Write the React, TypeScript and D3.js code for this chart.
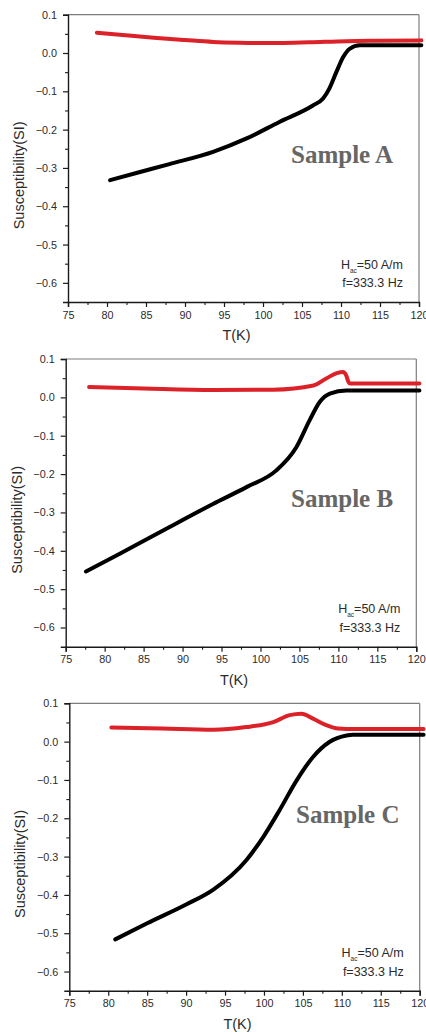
import React, { useEffect, useRef } from 'react';
import * as d3 from 'd3';

// Sample A
const tempBlackA = [80.4, 84, 88, 93.6, 97.9, 102.1, 106.4, 107.7, 108.5, 109.4, 110.3, 111.1, 112.4, 116, 120.3];
const chiBlackA = [-0.332, -0.312, -0.29, -0.258, -0.223, -0.18, -0.137, -0.119, -0.093, -0.05, -0.01, 0.011, 0.02, 0.02, 0.02];
const tempRedA = [78.7, 82, 86, 90, 93.6, 97, 102.1, 106, 110.7, 115, 120.3];
const chiRedA = [0.053, 0.047, 0.04, 0.034, 0.029, 0.027, 0.026, 0.028, 0.031, 0.032, 0.033];

// Sample B
const tempBlackB = [77.6, 82, 87.5, 93.9, 98.2, 102.0, 104.6, 106.3, 107.6, 108.9, 111.0, 115, 120.4];
const chiBlackB = [-0.454, -0.407, -0.347, -0.278, -0.234, -0.191, -0.13, -0.06, -0.012, 0.01, 0.018, 0.018, 0.018];
const tempRedB = [78.0, 85, 93.9, 101.6, 106.8, 108.5, 109.8, 110.6, 111.0, 111.3, 111.5, 115, 120.4];
const chiRedB = [0.027, 0.023, 0.019, 0.02, 0.031, 0.05, 0.063, 0.066, 0.057, 0.04, 0.036, 0.036, 0.036];

// Sample C
const tempBlackC = [80.9, 85, 90, 93.5, 97.7, 99.9, 102.0, 104.2, 106.3, 108.4, 110.6, 111.4, 115, 120.5];
const chiBlackC = [-0.516, -0.474, -0.425, -0.386, -0.31, -0.249, -0.179, -0.101, -0.04, -0.001, 0.016, 0.018, 0.018, 0.018];
const tempRedC = [80.4, 87, 93.5, 97.7, 101.2, 103.3, 104.8, 106.3, 108.0, 109.5, 110.6, 115, 120.5];
const chiRedC = [0.037, 0.034, 0.031, 0.038, 0.051, 0.069, 0.073, 0.06, 0.043, 0.034, 0.033, 0.033, 0.033];

const xTicks = [75, 80, 85, 90, 95, 100, 105, 110, 115, 120];
const yTicks = [0.1, 0.0, -0.1, -0.2, -0.3, -0.4, -0.5, -0.6];
const sampleNames = ['Sample A', 'Sample B', 'Sample C'];
const xTitle = 'T(K)';
const yTitle = 'Susceptibility(SI)';
const fieldText = '=50 A/m';
const freqText = 'f=333.3 Hz';

const W = 426;
const H = 1032;

// plot boxes (pixels) and where the sample name sits
const boxes = [
  { left: 68, right: 419, top: 14.7, bottom: 302, nameX: 291, nameY: 163 },
  { left: 65.7, right: 416.3, top: 359, bottom: 646.7, nameX: 291, nameY: 506.7 },
  { left: 69.3, right: 419.7, top: 703.3, bottom: 990.7, nameX: 296, nameY: 823.3 },
];

const series = [
  { black: [tempBlackA, chiBlackA], red: [tempRedA, chiRedA] },
  { black: [tempBlackB, chiBlackB], red: [tempRedB, chiRedB] },
  { black: [tempBlackC, chiBlackC], red: [tempRedC, chiRedC] },
];

const App = () => {
  const svgRef = useRef<SVGSVGElement>(null);

  useEffect(() => {
    const svg = d3.select(svgRef.current);
    svg.selectAll('*').remove();

    const sans = "'Liberation Sans', Arial, sans-serif";
    const serif = "'Liberation Serif', 'Times New Roman', serif";
    const axisDark = '#1a1a1a';
    const frameGray = '#7d7d7d';
    const labelColor = '#2b2b2b';
    const redColor = '#dc2229';

    boxes.forEach((b, i) => {
      const x = d3.scaleLinear().domain([75, 120]).range([b.left, b.right]);
      const y = d3.scaleLinear().domain([-0.65, 0.1]).range([b.bottom, b.top]);
      const g = svg.append('g');

      // frame top/right
      g.append('line')
        .attr('x1', b.left).attr('x2', b.right).attr('y1', b.top).attr('y2', b.top)
        .attr('stroke', frameGray).attr('stroke-width', 1.2);
      g.append('line')
        .attr('x1', b.right).attr('x2', b.right).attr('y1', b.top).attr('y2', b.bottom)
        .attr('stroke', frameGray).attr('stroke-width', 1.2);

      // X axis
      const xAxis = g.append('g')
        .attr('transform', `translate(0,${b.bottom})`)
        .call(d3.axisBottom(x).tickValues(xTicks).tickSize(5).tickPadding(4).tickFormat(d3.format('d')));
      xAxis.select('.domain').attr('stroke', axisDark).attr('stroke-width', 1.4);
      xAxis.selectAll('.tick line').attr('stroke', axisDark).attr('stroke-width', 1.2);
      xAxis.selectAll('text')
        .attr('fill', labelColor).style('font-family', sans).style('font-size', '10.8px');
      g.append('g')
        .attr('transform', `translate(0,${b.bottom})`)
        .call(d3.axisBottom(x).tickValues(d3.range(77.5, 120, 5)).tickSize(3).tickFormat(() => ''))
        .call(s => s.select('.domain').remove())
        .selectAll('.tick line').attr('stroke', axisDark).attr('stroke-width', 1.1);

      // Y axis
      const yAxis = g.append('g')
        .attr('transform', `translate(${b.left},0)`)
        .call(d3.axisLeft(y).tickValues(yTicks).tickSize(5).tickPadding(6).tickFormat(d3.format('.1f')));
      yAxis.select('.domain').attr('stroke', axisDark).attr('stroke-width', 1.4);
      yAxis.selectAll('.tick line').attr('stroke', axisDark).attr('stroke-width', 1.2);
      yAxis.selectAll('text')
        .attr('fill', labelColor).style('font-family', sans).style('font-size', '10.8px');
      g.append('g')
        .attr('transform', `translate(${b.left},0)`)
        .call(d3.axisLeft(y).tickValues([0.05, -0.05, -0.15, -0.25, -0.35, -0.45, -0.55]).tickSize(3).tickFormat(() => ''))
        .call(s => s.select('.domain').remove())
        .selectAll('.tick line').attr('stroke', axisDark).attr('stroke-width', 1.1);

      // titles
      g.append('text')
        .attr('x', (b.left + b.right) / 2 - 7)
        .attr('y', b.bottom + 38)
        .attr('text-anchor', 'middle')
        .attr('fill', labelColor)
        .style('font-family', sans).style('font-size', '14.5px')
        .text(xTitle);
      g.append('text')
        .attr('transform', `translate(${b.left - 44},${(b.top + b.bottom) / 2 + 17}) rotate(-90)`)
        .attr('text-anchor', 'middle')
        .attr('fill', labelColor)
        .style('font-family', sans).style('font-size', '14.5px')
        .text(yTitle);

      // curves
      const line = d3.line<[number, number]>()
        .x(d => x(d[0]))
        .y(d => y(d[1]))
        .curve(d3.curveMonotoneX);
      const s = series[i];
      const red = s.red[0].map((t, k) => [t, s.red[1][k]] as [number, number]);
      const black = s.black[0].map((t, k) => [t, s.black[1][k]] as [number, number]);
      g.append('path').attr('d', line(red)!)
        .attr('fill', 'none').attr('stroke', redColor).attr('stroke-width', 4)
        .attr('stroke-linecap', 'round').attr('stroke-linejoin', 'round');
      g.append('path').attr('d', line(black)!)
        .attr('fill', 'none').attr('stroke', '#000').attr('stroke-width', 4)
        .attr('stroke-linecap', 'round').attr('stroke-linejoin', 'round');

      // sample name
      g.append('text')
        .attr('x', b.nameX).attr('y', b.nameY)
        .attr('fill', '#666')
        .style('font-family', serif).style('font-size', '25px').style('font-weight', 'bold')
        .text(sampleNames[i]);

      // measurement conditions
      const ax = b.right - 16;
      const h = g.append('text')
        .attr('x', ax).attr('y', b.bottom - 33.5)
        .attr('text-anchor', 'end')
        .attr('fill', labelColor)
        .style('font-family', sans).style('font-size', '12.5px');
      h.append('tspan').text('H');
      h.append('tspan').attr('dy', 4).style('font-size', '6.5px').text('ac');
      h.append('tspan').attr('dy', -4).text(fieldText);
      g.append('text')
        .attr('x', ax).attr('y', b.bottom - 15)
        .attr('text-anchor', 'end')
        .attr('fill', labelColor)
        .style('font-family', sans).style('font-size', '12.5px')
        .text(freqText);
    });
  }, []);

  return (
    <svg
      ref={svgRef}
      width={W}
      height={H}
      style={{ position: 'absolute', left: 0, top: 0, background: '#fff' }}
    />
  );
};

export default App;
